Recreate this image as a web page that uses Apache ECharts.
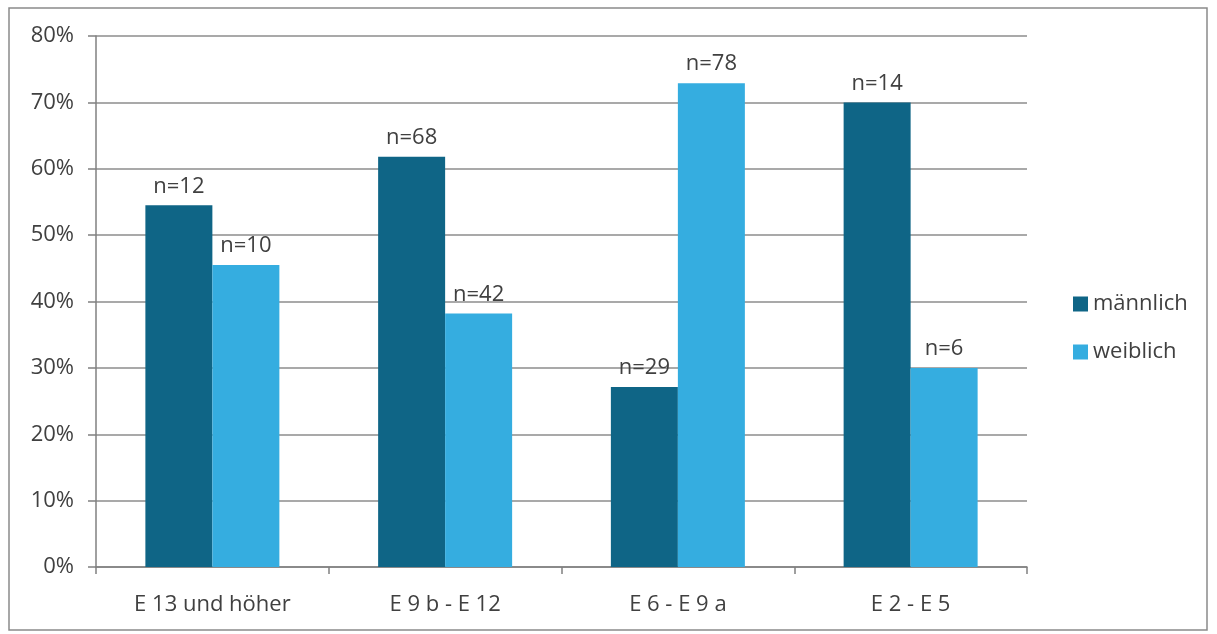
<!DOCTYPE html>
<html>
<head>
<meta charset="utf-8">
<script src="https://cdn.jsdelivr.net/npm/echarts@6/dist/echarts.min.js"></script>
<style>
  html, body { margin: 0; padding: 0; background: #ffffff; }
  #chart { width: 1217px; height: 634px; }
</style>
</head>
<body>
<div id="chart"></div>
<script>
// Pay grade groups
const categories = ['E 13 und höher', 'E 9 b - E 12', 'E 6 - E 9 a', 'E 2 - E 5'];
// Share per group in percent
const maleValues = [54.5, 61.8, 27.1, 70.0];
const femaleValues = [45.5, 38.2, 72.9, 30.0];
// Headcounts shown above the bars
const maleCounts = [12, 68, 29, 14];
const femaleCounts = [10, 42, 78, 6];
const yTicks = { min: 0, max: 80, interval: 10 };

const textColor = '#404040';
const fontFamily = '"Open Sans", "Noto Sans", sans-serif';

const chart = echarts.init(document.getElementById('chart'));

function countLabel(counts) {
  return {
    show: true,
    position: 'top',
    distance: 8,
    color: textColor,
    fontFamily: fontFamily,
    fontSize: 22,
    formatter: p => 'n=' + counts[p.dataIndex]
  };
}

chart.setOption({
  backgroundColor: '#ffffff',
  animation: false,
  graphic: [{
    type: 'rect',
    shape: { x: 9, y: 8, width: 1198, height: 622 },
    style: { fill: 'none', stroke: '#8a8a8a', lineWidth: 1.5 },
    silent: true
  }],
  grid: { left: 96, right: 190, top: 36, bottom: 67 },
  legend: {
    orient: 'vertical',
    left: 1068,
    top: 288,
    itemWidth: 15,
    itemHeight: 15,
    itemGap: 26,
    icon: 'rect',
    textStyle: { color: textColor, fontFamily: fontFamily, fontSize: 22 },
    data: ['männlich', 'weiblich']
  },
  xAxis: {
    type: 'category',
    data: categories,
    axisLine: { lineStyle: { color: '#808080', width: 1.5 } },
    axisTick: { show: true, length: 7, alignWithLabel: false, lineStyle: { color: '#808080', width: 1.5 } },
    axisLabel: { color: textColor, fontFamily: fontFamily, fontSize: 22, margin: 27 }
  },
  yAxis: {
    type: 'value',
    min: yTicks.min,
    max: yTicks.max,
    interval: yTicks.interval,
    axisLine: { show: true, lineStyle: { color: '#808080', width: 1.5 } },
    axisTick: { show: true, length: 8, lineStyle: { color: '#808080', width: 1.5 } },
    axisLabel: { formatter: '{value}%', color: textColor, fontFamily: fontFamily, fontSize: 22, margin: 22 },
    splitLine: { show: true, lineStyle: { color: '#8c8c8c', width: 1.5 } }
  },
  series: [
    {
      name: 'männlich',
      type: 'bar',
      data: maleValues,
      barWidth: 67,
      barGap: '0%',
      itemStyle: { color: '#0f6586' },
      label: countLabel(maleCounts)
    },
    {
      name: 'weiblich',
      type: 'bar',
      data: femaleValues,
      barWidth: 67,
      itemStyle: { color: '#35ade0' },
      label: countLabel(femaleCounts)
    }
  ]
});
</script>
</body>
</html>
